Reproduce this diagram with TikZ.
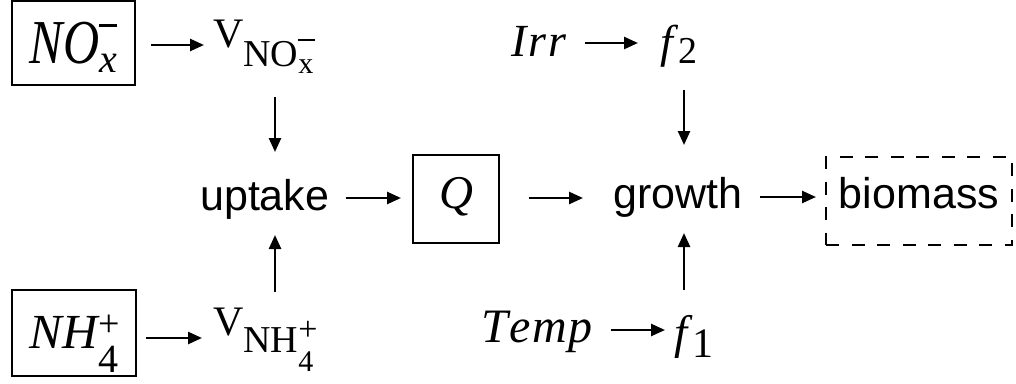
\documentclass[tikz,border=0pt]{standalone}
\usepackage{graphicx}
\usepackage{fontspec}
\setmainfont{Liberation Serif}
\setsansfont{Liberation Sans}
\usetikzlibrary{arrows.meta,calc}
\newcommand\fsz[1]{\fontsize{#1pt}{#1pt}\selectfont}
\begin{document}
\begin{tikzpicture}[x=1pt,y=-1pt,
  boxnode/.style={draw,line width=2pt,inner sep=0pt},
  lbl/.style={inner sep=0pt,anchor=base west},
  sanslbl/.style={lbl,font=\sffamily\fsz{43}},
  arr/.style={line width=2.5pt,-{Triangle[length=14pt,width=12pt]}}]
\useasboundingbox (0,0) rectangle (1016,383);

% boxed sources
\node[boxnode,minimum width=123pt,minimum height=84pt,text height=41pt,text depth=0pt] (nox) at (73.5,43)
  {\scalebox{1}[1.25]{\fsz{50}\itshape NO}\rlap{\rule[37pt]{18pt}{2.4pt}}\raisebox{-9pt}{\fsz{40}\itshape x}};
\node[boxnode,minimum width=124pt,minimum height=86pt,text height=30pt,text depth=0pt] (nh4) at (74,333)
  {{\fsz{49}\itshape NH}\rlap{\raisebox{12pt}{\fsz{38}+}}\raisebox{-24pt}{\fsz{40}4}};

% uptake velocities
\node[lbl] (vno) at (213,47)
  {\fsz{42}V\raisebox{-19pt}{\fsz{38}NO}\rlap{\rule[6pt]{17pt}{2.2pt}}\raisebox{-26pt}{\fsz{30}x}};
\node[lbl] (vnh) at (213,335)
  {\fsz{42}V\raisebox{-17pt}{\fsz{38}NH}\rlap{\raisebox{-5pt}{\fsz{34}+}}\raisebox{-36pt}{\fsz{30}4}};

% processes
\node[sanslbl] (uptake) at (200,210) {uptake};
\node[boxnode,minimum width=86pt,minimum height=88pt,text height=30pt,text depth=12pt,font=\fsz{47}\itshape] (Q) at (456,199) {Q};
\node[sanslbl] (growth) at (613,208) {growth};
\node[boxnode,dash pattern=on 13pt off 12.5pt,minimum width=186pt,minimum height=88pt,text height=31pt,text depth=17pt,font=\sffamily\fsz{43}] (bio) at (919,201) {biomass};

% environment
\node[lbl,font=\fsz{46}\itshape] (irr) at (511,56) {I\kern2pt r\kern2pt r};
\node[lbl] (f2) at (660,57) {\fsz{46}\itshape f\/\upshape\raisebox{-6pt}{\fsz{38}2}};
\node[lbl,font=\fsz{48}\itshape] (temp) at (481,342) {T\kern1.5pt e\kern1.5pt m\kern1.5pt p};
\node[lbl] (f1) at (674,348) {\fsz{47}\itshape f\/\upshape\raisebox{-9pt}{\fsz{42}1}};

% connectors
\draw[arr] ($(nox.east)+(15,2)$) -- ($(vno.base west)+(-9,-2)$);
\draw[arr] ($(nh4.east)+(9,5)$) -- ($(vnh.base west)+(-11,3)$);
\draw[arr] ($(vno.base west)+(62,50)$) -- ($(uptake.base west)+(75,-58)$);
\draw[arr] ($(vnh.base west)+(62,-43)$) -- ($(uptake.base west)+(75,25)$);
\draw[arr] ($(uptake.base east)+(16,-12)$) -- ($(Q.west)+(-11,-1)$);
\draw[arr] ($(Q.east)+(29,-1)$) -- ($(growth.base west)+(-30,-10)$);
\draw[arr] ($(growth.base east)+(18,-11)$) -- ($(bio.west)+(-9,-4)$);
\draw[arr] ($(irr.base east)+(18,-13)$) -- ($(f2.base west)+(-22,-14)$);
\draw[arr] ($(temp.base east)+(18,-12)$) -- ($(f1.base west)+(-9,-18)$);
\draw[arr] ($(f2.base west)+(24,33)$) -- ($(growth.base west)+(71,-63)$);
\draw[arr] ($(f1.base west)+(10,-58)$) -- ($(growth.base west)+(71,25)$);
\end{tikzpicture}
\end{document}
